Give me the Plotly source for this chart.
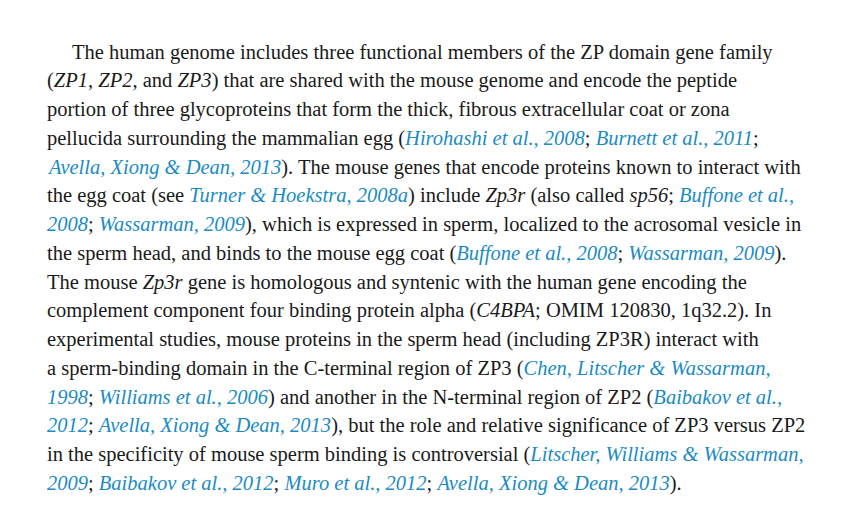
import re
import plotly.graph_objects as go

LINK_COLOR = "#1b8bc3"

# paragraph lines; [..] marks a citation link, <i> marks italic gene names
lines = [
    "The human genome includes three functional members of the ZP domain gene family",
    "(<i>ZP1</i>, <i>ZP2</i>, and <i>ZP3</i>) that are shared with the mouse genome and encode the peptide",
    "portion of three glycoproteins that form the thick, fibrous extracellular coat or zona",
    "pellucida surrounding the mammalian egg ([Hirohashi et al., 2008]; [Burnett et al., 2011];",
    "[Avella, Xiong & Dean, 2013]). The mouse genes that encode proteins known to interact with",
    "the egg coat (see [Turner & Hoekstra, 2008a]) include <i>Zp3r</i> (also called <i>sp56</i>; [Buffone et al.,",
    "[2008]; [Wassarman, 2009]), which is expressed in sperm, localized to the acrosomal vesicle in",
    "the sperm head, and binds to the mouse egg coat ([Buffone et al., 2008]; [Wassarman, 2009]).",
    "The mouse <i>Zp3r</i> gene is homologous and syntenic with the human gene encoding the",
    "complement component four binding protein alpha (<i>C4BPA</i>; OMIM 120830, 1q32.2). In",
    "experimental studies, mouse proteins in the sperm head (including ZP3R) interact with",
    "a sperm-binding domain in the C-terminal region of ZP3 ([Chen, Litscher & Wassarman,",
    "[1998]; [Williams et al., 2006]) and another in the N-terminal region of ZP2 ([Baibakov et al.,",
    "[2012]; [Avella, Xiong & Dean, 2013]), but the role and relative significance of ZP3 versus ZP2",
    "in the specificity of mouse sperm binding is controversial ([Litscher, Williams & Wassarman,",
    "[2009]; [Baibakov et al., 2012]; [Muro et al., 2012]; [Avella, Xiong & Dean, 2013]).",
]
indent = [1] + [0] * (len(lines) - 1)


def to_html(s):
    s = s.replace("&", "&amp;")
    # a citation may run past the end of the line (no closing bracket)
    return re.sub(r"\[([^\]]+)(?:\]|$)",
                  lambda m: f"<i><span style='color:{LINK_COLOR}'>{m.group(1)}</span></i>", s)


fig = go.Figure()

annotations = []
for i, (line, ind) in enumerate(zip(lines, indent)):
    annotations.append(dict(
        x=62 if ind else 37,
        y=44 + i * 28.75,
        xref="x", yref="y",
        text=to_html(line),
        showarrow=False,
        xanchor="left", yanchor="middle",
        font=dict(family="Liberation Serif", size=20.5, color="#1a1a1a"),
    ))

fig.update_layout(
    width=854, height=514,
    margin=dict(l=0, r=0, t=0, b=0),
    paper_bgcolor="white", plot_bgcolor="white",
    xaxis=dict(range=[0, 854], visible=False),
    yaxis=dict(range=[514, 0], visible=False),
    annotations=annotations,
    showlegend=False,
)

fig.write_html("out.html")
